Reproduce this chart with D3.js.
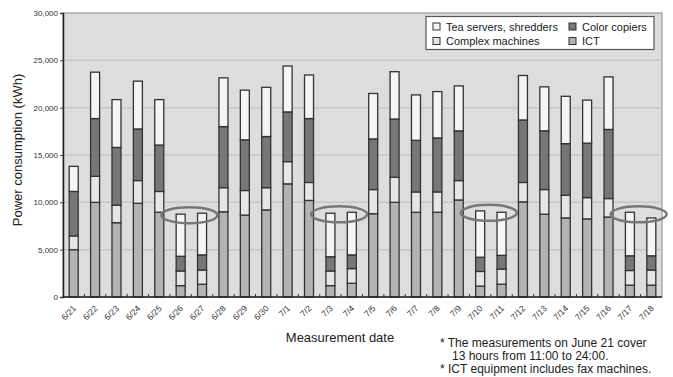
<!DOCTYPE html>
<html>
<head>
<meta charset="utf-8">
<script src="https://cdn.jsdelivr.net/npm/d3@7/dist/d3.min.js"></script>
<style>
  html, body { margin: 0; padding: 0; background: #ffffff; }
  svg { display: block; }
  svg text { font-family: 'Liberation Sans', Arimo, Arial, Helvetica, sans-serif; }
</style>
</head>
<body>
<svg id="chart" width="673" height="377" font-family="Liberation Sans"></svg>
<script>
// ---- data ----
const dates = ["6/21","6/22","6/23","6/24","6/25","6/26","6/27","6/28","6/29","6/30",
  "7/1","7/2","7/3","7/4","7/5","7/6","7/7","7/8","7/9","7/10","7/11","7/12","7/13",
  "7/14","7/15","7/16","7/17","7/18"];
const ict      = [5000,10000,7850,9900,8950,1200,1350,9000,8650,9200,11950,10200,1200,1450,8800,10000,8950,8950,10250,1150,1350,10050,8750,8350,8250,8450,1250,1250];
const complexM = [1450,2750,1850,2400,2200,1550,1500,2550,2600,2350,2350,1900,1550,1550,2550,2650,2150,2150,2050,1550,1600,2050,2600,2400,2250,1950,1550,1600];
const colorCop = [4700,6100,6100,5450,4900,1550,1600,6450,5350,5400,5250,6750,1500,1450,5350,6150,5450,5700,5250,1500,1450,6600,6200,5450,5750,7300,1550,1500];
const teaShred = [2650,4900,5050,5050,4800,4450,4400,5150,5250,5200,4850,4600,4600,4500,4800,5000,4800,4900,4750,4900,4550,4700,4650,5000,4550,5550,4600,4000];
const seriesNames = ["ICT","Complex machines","Color copiers","Tea servers, shredders"];
const yTicks = [0,5000,10000,15000,20000,25000,30000];
const circledPairs = [["6/26","6/27"],["7/3","7/4"],["7/10","7/11"],["7/17","7/18"]];
const notes = ["* The measurements on June 21 cover", "13 hours from 11:00 to 24:00.", "* ICT equipment includes fax machines."];

// ---- layout ----
const FONT = "'Liberation Sans', Arimo, Arial, sans-serif";
const svg = d3.select("#chart");
const L = 63, R = 662, T = 13, B = 297;
const colors = {"ICT":"#b3b3b3","Complex machines":"#e6e6e6","Color copiers":"#777777","Tea servers, shredders":"#f5f5f5"};

const x = d3.scaleBand().domain(dates).range([L, R]).paddingInner(0).paddingOuter(0);
const y = d3.scaleLinear().domain([0, 30000]).range([B, T]);

// plot background
svg.append("rect").attr("x", L).attr("y", T).attr("width", R - L).attr("height", B - T)
  .attr("fill", "#dddddd").attr("stroke", "#999999").attr("stroke-width", 1.2);

// gridlines
svg.append("g").selectAll("line").data(yTicks.filter(d => d > 0 && d < 30000)).join("line")
  .attr("x1", L).attr("x2", R).attr("y1", d => y(d)).attr("y2", d => y(d))
  .attr("stroke", "#c6c6c6").attr("stroke-width", 1.5);

// stacked data
const table = dates.map((d, i) => ({date: d, "ICT": ict[i], "Complex machines": complexM[i], "Color copiers": colorCop[i], "Tea servers, shredders": teaShred[i]}));
const stacked = d3.stack().keys(seriesNames)(table);

const bw = 9;
const gBars = svg.append("g");
stacked.forEach(layer => {
  gBars.append("g").selectAll("rect").data(layer).join("rect")
    .attr("x", d => x(d.data.date) + x.bandwidth() / 2 - bw / 2)
    .attr("y", d => y(d[1]))
    .attr("width", bw)
    .attr("height", d => y(d[0]) - y(d[1]))
    .attr("fill", colors[layer.key])
    .attr("stroke", "#333333").attr("stroke-width", 1.3);
});

// axes
const yAxis = d3.axisLeft(y).tickValues(yTicks).tickSize(3).tickFormat(d3.format(","));
const gy = svg.append("g").attr("transform", `translate(${L},0)`).call(yAxis);
gy.attr("font-family", FONT);
gy.select(".domain").attr("stroke", "#222").attr("stroke-width", 1.5);
gy.selectAll(".tick line").attr("stroke", "#444");
gy.selectAll(".tick text").attr("font-size", 8).attr("fill", "#333").attr("x", -5).attr("font-family", FONT);

const gx = svg.append("g").attr("transform", `translate(0,${B})`);
gx.append("line").attr("x1", L).attr("x2", R).attr("y1", 0).attr("y2", 0).attr("stroke", "#222").attr("stroke-width", 1.5);
gx.selectAll("line.tk").data(dates.slice(1)).join("line").attr("class", "tk")
  .attr("x1", d => x(d)).attr("x2", d => x(d)).attr("y1", 0).attr("y2", -3)
  .attr("stroke", "#333").attr("stroke-width", 1);
gx.selectAll("text").data(dates).join("text")
  .attr("transform", d => `translate(${x(d) + x.bandwidth() / 2 + 3},12) rotate(-45)`)
  .attr("text-anchor", "end").attr("font-size", 8.5).attr("fill", "#333").attr("font-family", FONT)
  .text(d => d);

// ellipses around weekend pairs
svg.append("g").selectAll("ellipse").data(circledPairs).join("ellipse")
  .attr("cx", p => x(p[1]) - 2)
  .attr("cy", p => y(d3.max(p, d => { const i = dates.indexOf(d); return ict[i] + complexM[i] + colorCop[i] + teaShred[i]; })) + 2)
  .attr("rx", 28).attr("ry", 8)
  .attr("fill", "none").attr("stroke", "#777777").attr("stroke-width", 2.5);

// legend
const lg = svg.append("g");
lg.append("rect").attr("x", 426).attr("y", 16.5).attr("width", 228).attr("height", 33)
  .attr("fill", "#ffffff").attr("stroke", "#555").attr("stroke-width", 1.2);
const legendItems = [
  {name: "Tea servers, shredders", col: 0, row: 0},
  {name: "Color copiers", col: 1, row: 0},
  {name: "Complex machines", col: 0, row: 1},
  {name: "ICT", col: 1, row: 1}
];
const colX = [433, 569], rowY = [26.5, 41];
legendItems.forEach(it => {
  lg.append("rect").attr("x", colX[it.col]).attr("y", rowY[it.row] - 3.5).attr("width", 7).attr("height", 7)
    .attr("fill", colors[it.name]).attr("stroke", "#333").attr("stroke-width", 1);
  lg.append("text").attr("x", colX[it.col] + 13).attr("y", rowY[it.row] + 4)
    .attr("font-size", 11).attr("fill", "#222").attr("font-family", FONT).text(it.name);
});

// axis titles
svg.append("text").attr("transform", `translate(22,150) rotate(-90)`).attr("text-anchor", "middle")
  .attr("font-size", 13).attr("fill", "#222").attr("font-family", FONT).text("Power consumption (kWh)");
svg.append("text").attr("x", 340).attr("y", 342).attr("text-anchor", "middle")
  .attr("font-size", 13).attr("fill", "#222").attr("font-family", FONT).text("Measurement date");

// notes
svg.append("g").selectAll("text").data(notes).join("text")
  .attr("x", (d, i) => i === 1 ? 452 : 440)
  .attr("y", (d, i) => [347, 360, 373][i])
  .attr("font-size", 12).attr("fill", "#222").attr("font-family", FONT).text(d => d);
</script>
</body>
</html>
